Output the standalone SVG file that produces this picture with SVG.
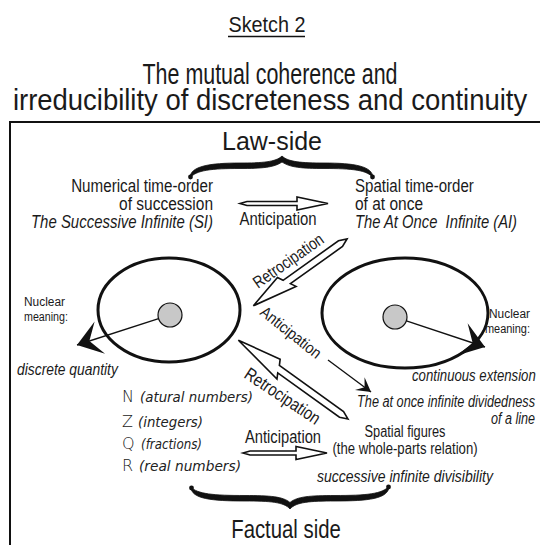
<svg xmlns="http://www.w3.org/2000/svg" width="540" height="545" viewBox="0 0 540 545">
<style>
.t{font-family:"Liberation Sans",Arial,sans-serif;fill:#1a1a1a}
.i{font-style:italic}
.g{font-family:"DejaVu Sans","Liberation Sans",sans-serif;fill:#222;font-weight:300}
.sph{fill:none;stroke:#111;stroke-width:3}
.core{fill:#c8c8c8;stroke:#111;stroke-width:1.2}
.ol{fill:#fff;stroke:#111;stroke-width:1.6;stroke-linejoin:miter}
.brace{fill:#111;stroke:#111;stroke-width:0.8}
.nl{stroke:#111;stroke-width:1.4;fill:none}
</style>
<defs>
<marker id="barb" viewBox="-26 -19 28 38" refX="0" refY="0" markerWidth="28" markerHeight="38" markerUnits="userSpaceOnUse" orient="auto">
<path d="M0,0 L-24,-17 L-13,0 L-24,17 Z" fill="#111"/>
</marker>
<marker id="barbS" viewBox="-16 -10 18 20" refX="0" refY="0" markerWidth="18" markerHeight="20" markerUnits="userSpaceOnUse" orient="auto">
<path d="M0,0 L-14,-8 L-8,0 L-14,8 Z" fill="#111"/>
</marker>
</defs>
<rect width="540" height="545" fill="#fff"/>

<g id="frame">
<path d="M10,545 L10,122 L540,122" fill="none" stroke="#111" stroke-width="2"/>
</g>

<g id="title">
<text class="t" transform="translate(267,32) scale(0.85,1)" font-size="22" text-anchor="middle" textLength="90.6" lengthAdjust="spacingAndGlyphs">Sketch 2</text>
<line x1="228" y1="36.5" x2="305" y2="36.5" stroke="#111" stroke-width="1.4"/>
<text class="t" transform="translate(270,84) scale(0.85,1)" font-size="29" text-anchor="middle" textLength="300" lengthAdjust="spacingAndGlyphs">The mutual coherence and</text>
<text class="t" transform="translate(270,110) scale(0.85,1)" font-size="29" text-anchor="middle" textLength="605" lengthAdjust="spacingAndGlyphs">irreducibility of discreteness and continuity</text>
</g>

<g id="law-side">
<text class="t" transform="translate(272,150) scale(0.9,1)" font-size="26" text-anchor="middle" textLength="111" lengthAdjust="spacingAndGlyphs">Law-side</text>
<path class="brace" d="M190,178 C190,166 210,163 240,163 C262,163 276,162 282,156 C288,162 302,163 324,163 C354,163 373,166 373,178 C368,170 352,168.5 324,168.5 C302,168.5 290,167.5 282,162 C274,167.5 262,168.5 240,168.5 C212,168.5 196,170 190,178 Z"/>
<circle cx="190.5" cy="177" r="2.4" fill="#111"/>
<circle cx="372.5" cy="177" r="2.4" fill="#111"/>
</g>

<g id="factual-side">
<path class="brace" d="M191,487 C191,499 212,501 245,501 C270,501 284,502 290,509 C296,502 310,501 335,501 C368,501 389,499 389,486 C383,494 366,495.5 335,495.5 C310,495.5 297,496.5 290,502.5 C283,496.5 270,495.5 245,495.5 C214,495.5 197,494 191,487 Z"/>
<circle cx="191.5" cy="488" r="2.4" fill="#111"/>
<circle cx="388.5" cy="487" r="2.4" fill="#111"/>
<text class="t" transform="translate(286,538) scale(0.8,1)" font-size="26" text-anchor="middle" textLength="137" lengthAdjust="spacingAndGlyphs">Factual side</text>
</g>

<g id="successive-infinite">
<text class="t" transform="translate(213,192) scale(0.82,1)" font-size="18.5" text-anchor="end" textLength="173" lengthAdjust="spacingAndGlyphs">Numerical time-order</text>
<text class="t" transform="translate(213,210) scale(0.82,1)" font-size="18.5" text-anchor="end" textLength="114.6" lengthAdjust="spacingAndGlyphs">of succession</text>
<text class="t i" transform="translate(213,228) scale(0.82,1)" font-size="18.5" text-anchor="end" textLength="222" lengthAdjust="spacingAndGlyphs">The Successive Infinite (SI)</text>
</g>

<g id="at-once-infinite">
<text class="t" transform="translate(355,192) scale(0.82,1)" font-size="18.5" textLength="145" lengthAdjust="spacingAndGlyphs">Spatial time-order</text>
<text class="t" transform="translate(355,210) scale(0.82,1)" font-size="18.5" textLength="83" lengthAdjust="spacingAndGlyphs">of at once</text>
<text class="t i" transform="translate(355,228) scale(0.82,1)" font-size="18.5" textLength="197.6" lengthAdjust="spacingAndGlyphs" xml:space="preserve">The At Once  Infinite (AI)</text>
</g>

<g id="left-sphere">
<ellipse class="sph" cx="169" cy="310" rx="71" ry="52"/>
<circle class="core" cx="170" cy="315" r="12"/>
<text class="t" transform="translate(24,306) scale(0.82,1)" font-size="13.5" textLength="50" lengthAdjust="spacingAndGlyphs">Nuclear</text>
<text class="t" transform="translate(24,321) scale(0.82,1)" font-size="13.5" textLength="53.6" lengthAdjust="spacingAndGlyphs">meaning:</text>
<text class="t i" transform="translate(17,375) scale(0.82,1)" font-size="17" textLength="123" lengthAdjust="spacingAndGlyphs">discrete quantity</text>
</g>

<g id="right-sphere">
<ellipse class="sph" cx="405" cy="313" rx="83" ry="55"/>
<circle class="core" cx="395" cy="317" r="12"/>
<text class="t" transform="translate(530,318) scale(0.82,1)" font-size="13.5" text-anchor="end" textLength="50" lengthAdjust="spacingAndGlyphs">Nuclear</text>
<text class="t" transform="translate(530,333) scale(0.82,1)" font-size="13.5" text-anchor="end" textLength="55" lengthAdjust="spacingAndGlyphs">meaning:</text>
<text class="t i" transform="translate(412,381) scale(0.75,1)" font-size="17" textLength="165" lengthAdjust="spacingAndGlyphs">continuous extension</text>
</g>

<g id="number-sets">
<text class="g" x="122" y="402" font-size="16">N</text>
<text class="g i" x="140" y="402" font-size="14" textLength="113" lengthAdjust="spacingAndGlyphs">(atural numbers)</text>
<text class="g" x="122" y="427" font-size="16">Z</text>
<text class="g i" x="138" y="427" font-size="14" textLength="65" lengthAdjust="spacingAndGlyphs">(integers)</text>
<text class="g" x="122" y="449" font-size="16">Q</text>
<text class="g i" x="141" y="449" font-size="14" textLength="61" lengthAdjust="spacingAndGlyphs">(fractions)</text>
<text class="g" x="122" y="471" font-size="16">R</text>
<text class="g i" x="139" y="471" font-size="14" textLength="102" lengthAdjust="spacingAndGlyphs">(real numbers)</text>
</g>

<g id="spatial-figures">
<text class="t i" transform="translate(535,407) scale(0.82,1)" font-size="16" text-anchor="end" textLength="217" lengthAdjust="spacingAndGlyphs">The at once infinite dividedness</text>
<text class="t i" transform="translate(535,424) scale(0.82,1)" font-size="16" text-anchor="end" textLength="53.7" lengthAdjust="spacingAndGlyphs">of a line</text>
<text class="t" transform="translate(405,437) scale(0.82,1)" font-size="16" text-anchor="middle" textLength="98.8" lengthAdjust="spacingAndGlyphs">Spatial figures</text>
<text class="t" transform="translate(405,454) scale(0.82,1)" font-size="16" text-anchor="middle" textLength="177" lengthAdjust="spacingAndGlyphs">(the whole-parts relation)</text>
<text class="t i" transform="translate(317,482) scale(0.82,1)" font-size="17" textLength="214.6" lengthAdjust="spacingAndGlyphs">successive infinite divisibility</text>
</g>

<g id="connectors">
<polygon class="ol" points="240,203.5 247,201.5 297,201.5 297,197 328,203.5 297,210 297,205.5 247,205.5"/>
<text class="t" transform="translate(278,225) scale(0.82,1)" font-size="18.5" text-anchor="middle" textLength="94" lengthAdjust="spacingAndGlyphs">Anticipation</text>

<polygon class="ol" transform="translate(347,239) rotate(144.5)" points="0,0 8,-3.5 72,-3.5 69,-9 115,0 79,9 76,3.5 8,3.5"/>
<text class="t" transform="translate(258,289) rotate(-35) scale(0.82,1)" font-size="17" textLength="100" lengthAdjust="spacingAndGlyphs">Retrocipation</text>

<text class="t" transform="translate(259,314) rotate(38.5) scale(0.82,1)" font-size="16" textLength="89" lengthAdjust="spacingAndGlyphs">Anticipation</text>
<line class="nl" x1="328" y1="360" x2="371" y2="392" marker-end="url(#barbS)"/>

<polygon class="ol" transform="translate(348,419) rotate(-144.3)" points="0,0 8,-3.5 84,-3.5 81,-9 135,0 90,9 87,3.5 8,3.5"/>
<text class="t" transform="translate(243,377) rotate(33.7) scale(0.82,1)" font-size="18" textLength="106" lengthAdjust="spacingAndGlyphs">Retrocipation</text>

<polygon class="ol" points="243,453 250,451 296,451 296,446.5 327,453 296,459.5 296,455 250,455"/>
<text class="t" transform="translate(283,443) scale(0.82,1)" font-size="18.5" text-anchor="middle" textLength="92.7" lengthAdjust="spacingAndGlyphs">Anticipation</text>

<line class="nl" x1="158.6" y1="318.7" x2="77" y2="345" marker-end="url(#barb)"/>
<line class="nl" x1="406.4" y1="320.8" x2="485" y2="347" marker-end="url(#barb)"/>
</g>
</svg>
